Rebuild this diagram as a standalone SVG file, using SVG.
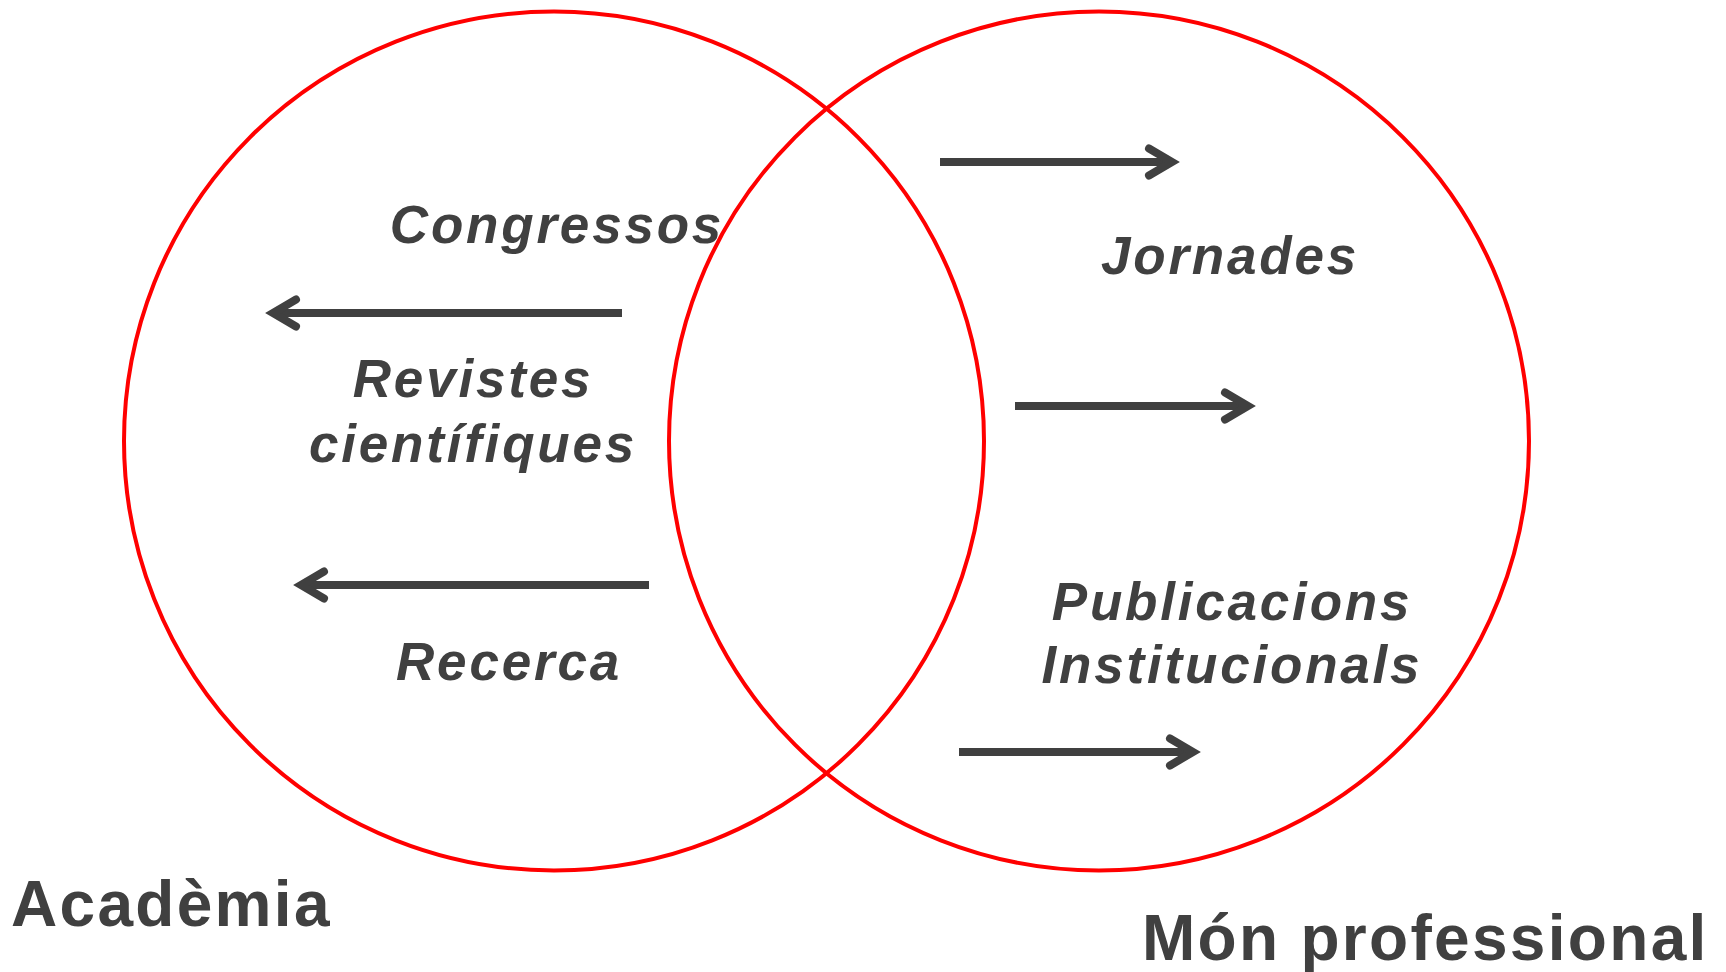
<svg xmlns="http://www.w3.org/2000/svg" width="1726" height="972" viewBox="0 0 1726 972">
<style>
.circle{fill:none;stroke:#ff0000;stroke-width:4}
.arrow{fill:none;stroke:#404040;stroke-width:8;stroke-linecap:round;stroke-linejoin:miter}
.shaft{fill:none;stroke:#404040;stroke-width:8;stroke-linecap:butt}
.lbl{font-family:"Liberation Sans",Arial,sans-serif;font-weight:bold;font-style:italic;font-size:53px;letter-spacing:2.8px;fill:#404040;text-anchor:middle}
.title{font-family:"Liberation Sans",Arial,sans-serif;font-weight:bold;font-size:64px;letter-spacing:2.3px;fill:#404040}
</style>
<rect width="1726" height="972" fill="#ffffff"/>
<g id="academia">
<ellipse class="circle" cx="554" cy="441" rx="430" ry="429.5"/>
<text class="title" x="11" y="926">Acadèmia</text>
</g>
<g id="mon-professional">
<ellipse class="circle" cx="1099" cy="441" rx="430" ry="429.5"/>
<text class="title" x="1142" y="960">Món professional</text>
</g>
<g id="congressos"><text class="lbl" x="557" y="243">Congressos</text></g>
<g id="revistes"><text class="lbl" x="473" y="397">Revistes</text><text class="lbl" x="473" y="462">científiques</text></g>
<g id="recerca"><text class="lbl" x="509" y="680">Recerca</text></g>
<g id="jornades"><text class="lbl" x="1230" y="274">Jornades</text></g>
<g id="publicacions"><text class="lbl" x="1232" y="620">Publicacions</text><text class="lbl" x="1232" y="683">Institucionals</text></g>
<g id="connectors">
<path class="shaft" d="M622 313 H274"/>
<path class="arrow" d="M296 299.5 L273 313 L296 326.5"/>
<path class="shaft" d="M649 585 H302"/>
<path class="arrow" d="M324 571.5 L301 585 L324 598.5"/>
<path class="shaft" d="M940 162 H1171"/>
<path class="arrow" d="M1149 148.5 L1172 162 L1149 175.5"/>
<path class="shaft" d="M1015 406 H1247"/>
<path class="arrow" d="M1225 392.5 L1248 406 L1225 419.5"/>
<path class="shaft" d="M959 752 H1192"/>
<path class="arrow" d="M1170 738.5 L1193 752 L1170 765.5"/>
</g>
</svg>
